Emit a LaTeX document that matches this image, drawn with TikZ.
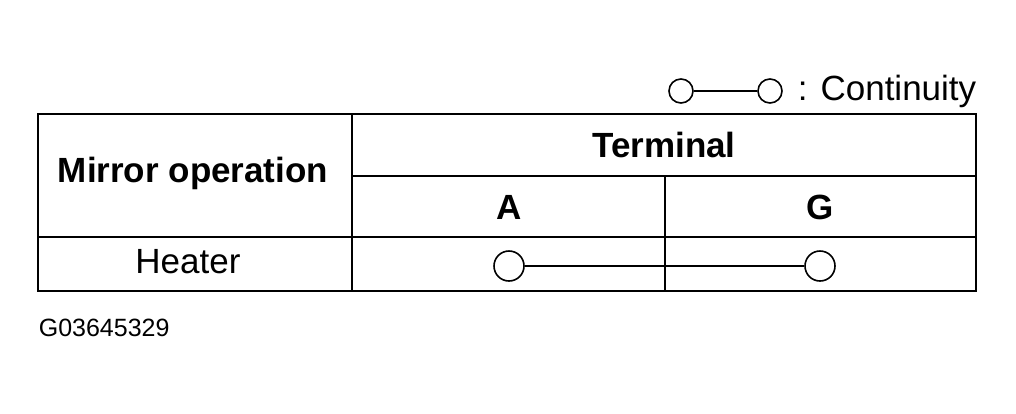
\documentclass[tikz,border=0pt]{standalone}
\usepackage{fontspec}
\setmainfont{Liberation Sans}
\begin{document}
\begin{tikzpicture}[x=1pt,y=-1pt,line width=1.6pt,
  txt/.style={inner sep=0pt,font=\fontsize{35}{40}\selectfont},
  bt/.style={txt,font=\fontsize{35}{40}\selectfont\bfseries},
  circ/.style={circle,draw,minimum size=30pt,inner sep=0pt,line width=1.6pt},
  lcirc/.style={circle,draw,minimum size=24pt,inner sep=0pt,line width=1.6pt}]
\useasboundingbox (0,0) rectangle (1016,413);
\draw (38,114) rectangle (976,291);
\draw (352,114) -- (352,291);
\draw (352,176) -- (976,176);
\draw (38,237) -- (976,237);
\draw (665,176) -- (665,291);
\node[bt] (mo) at (193,173) {Mirror operation};
\node[bt] (term) at (664,145) {Terminal};
\node[bt] (a) at (509,207) {A};
\node[bt] (g) at (820,207) {G};
\node[txt] (heat) at (188,262) {Heater};
\node[circ] (c1) at (509,266) {};
\node[circ] (c2) at (820,266) {};
\draw (c1) -- (c2);
\node[lcirc] (l1) at (681,91) {};
\node[lcirc] (l2) at (770,91) {};
\draw (l1) -- (l2);
\node[txt,anchor=east] (cont) at (977,91) {: Continuity};
\node[inner sep=0pt,anchor=west,font=\fontsize{25}{28}\selectfont] (code) at (38,328) {G03645329};
\end{tikzpicture}
\end{document}
